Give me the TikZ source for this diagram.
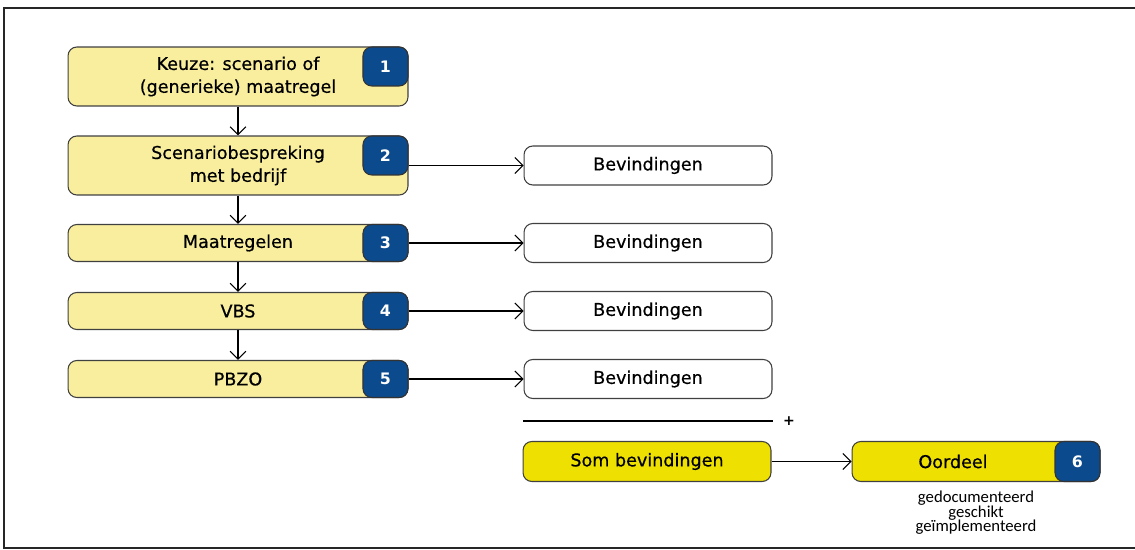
\documentclass[tikz,border=0pt]{standalone}
\usepackage{fontspec}
\setmainfont{DejaVu Sans}
\newfontfamily\halfvet{DejaVu Sans}[FakeBold=0.5]
\newfontfamily\smalfont{Carlito}
\usepackage{tikz}
\usetikzlibrary{positioning,arrows.meta}
\definecolor{lichtgeel}{HTML}{F8EE9E}
\definecolor{donkerblauw}{HTML}{0B4A8C}
\definecolor{felgeel}{HTML}{EEE000}

\begin{document}
\begin{tikzpicture}[x=0.02cm,y=-0.02cm,>={Straight Barb[length=4.5pt,width=9pt]},line width=0.6pt]
    \tikzstyle{stap}=[rectangle,rounded corners=5pt,draw=black!75,fill=lichtgeel,minimum width=6.8cm,inner sep=0pt,align=center,font=\halfvet\fontsize{10}{13}\selectfont]
    \tikzstyle{hoog}=[stap,minimum height=1.18cm]
    \tikzstyle{laag}=[stap,minimum height=0.74cm]
    \tikzstyle{nummer}=[rectangle,rounded corners=5pt,draw=black!80,fill=donkerblauw,text=white,minimum width=0.9cm,inner sep=0pt,font=\bfseries\fontsize{9}{10}\selectfont]
    \tikzstyle{bevinding}=[rectangle,rounded corners=5pt,draw=black!75,fill=white,minimum width=4.96cm,minimum height=0.78cm,inner sep=0pt,font=\halfvet\fontsize{10}{12}\selectfont]
    \tikzstyle{som}=[bevinding,fill=felgeel,minimum height=0.8cm]

    \useasboundingbox (0,0) rectangle (1135,550);
    % kader (rechterkant valt buiten beeld)
    \draw[line width=1.2pt,black!85] (1140,8) -- (4,8) -- (4,548) -- (1140,548);

    % de stappen met hun nummer
    \node[hoog] (S-1) at (238,76.5) {Keuze: scenario of\\(generieke) maatregel};
    \node[nummer,minimum height=0.78cm,anchor=north east] (N-1) at (S-1.north east) {1};
    \node[hoog] (S-2) at (238,165.5) {Scenariobespreking\\met bedrijf};
    \node[nummer,minimum height=0.78cm,anchor=north east] (N-2) at (S-2.north east) {2};
    \node[laag] (S-3) at (238,243) {Maatregelen};
    \node[nummer,minimum height=0.74cm,anchor=north east] (N-3) at (S-3.north east) {3};
    \node[laag] (S-4) at (238,311) {VBS};
    \node[nummer,minimum height=0.74cm,anchor=north east] (N-4) at (S-4.north east) {4};
    \node[laag] (S-5) at (238,379) {PBZO};
    \node[nummer,minimum height=0.74cm,anchor=north east] (N-5) at (S-5.north east) {5};

    \foreach \i/\j in {1/2,2/3,3/4,4/5}
        \draw[->] (S-\i) -- (S-\j);

    % bevindingen per stap
    \foreach \i/\y in {2/165.5,3/243,4/311,5/379} {
        \node[bevinding] (B-\i) at (648,\y) {Bevindingen};
        \draw[->] (S-\i.east) -- (B-\i.west);
    }

    % optellen
    \coordinate (L-a) at (523,421);
    \coordinate (L-b) at (773,421);
    \draw (L-a) -- (L-b);
    \node[font=\bfseries\fontsize{8}{9}\selectfont] (plus) at (789,421) {+};

    \node[som] (Som) at (647,461.5) {Som bevindingen};
    \node[som] (Oordeel) at (976,461.5) {};
    \node[nummer,minimum height=0.8cm,anchor=north east] (N-6) at (Oordeel.north east) {6};
    \node[font=\halfvet\fontsize{10}{12}\selectfont] (O-tekst) at (953,461.5) {Oordeel};
    \draw[->] (Som) -- (Oordeel);

    \node[anchor=north,align=center,inner sep=0pt,font=\smalfont\fontsize{9.5}{8.5}\selectfont] (criteria) at (976,490) {gedocumenteerd\\geschikt\\geïmplementeerd};
\end{tikzpicture}
\end{document}
